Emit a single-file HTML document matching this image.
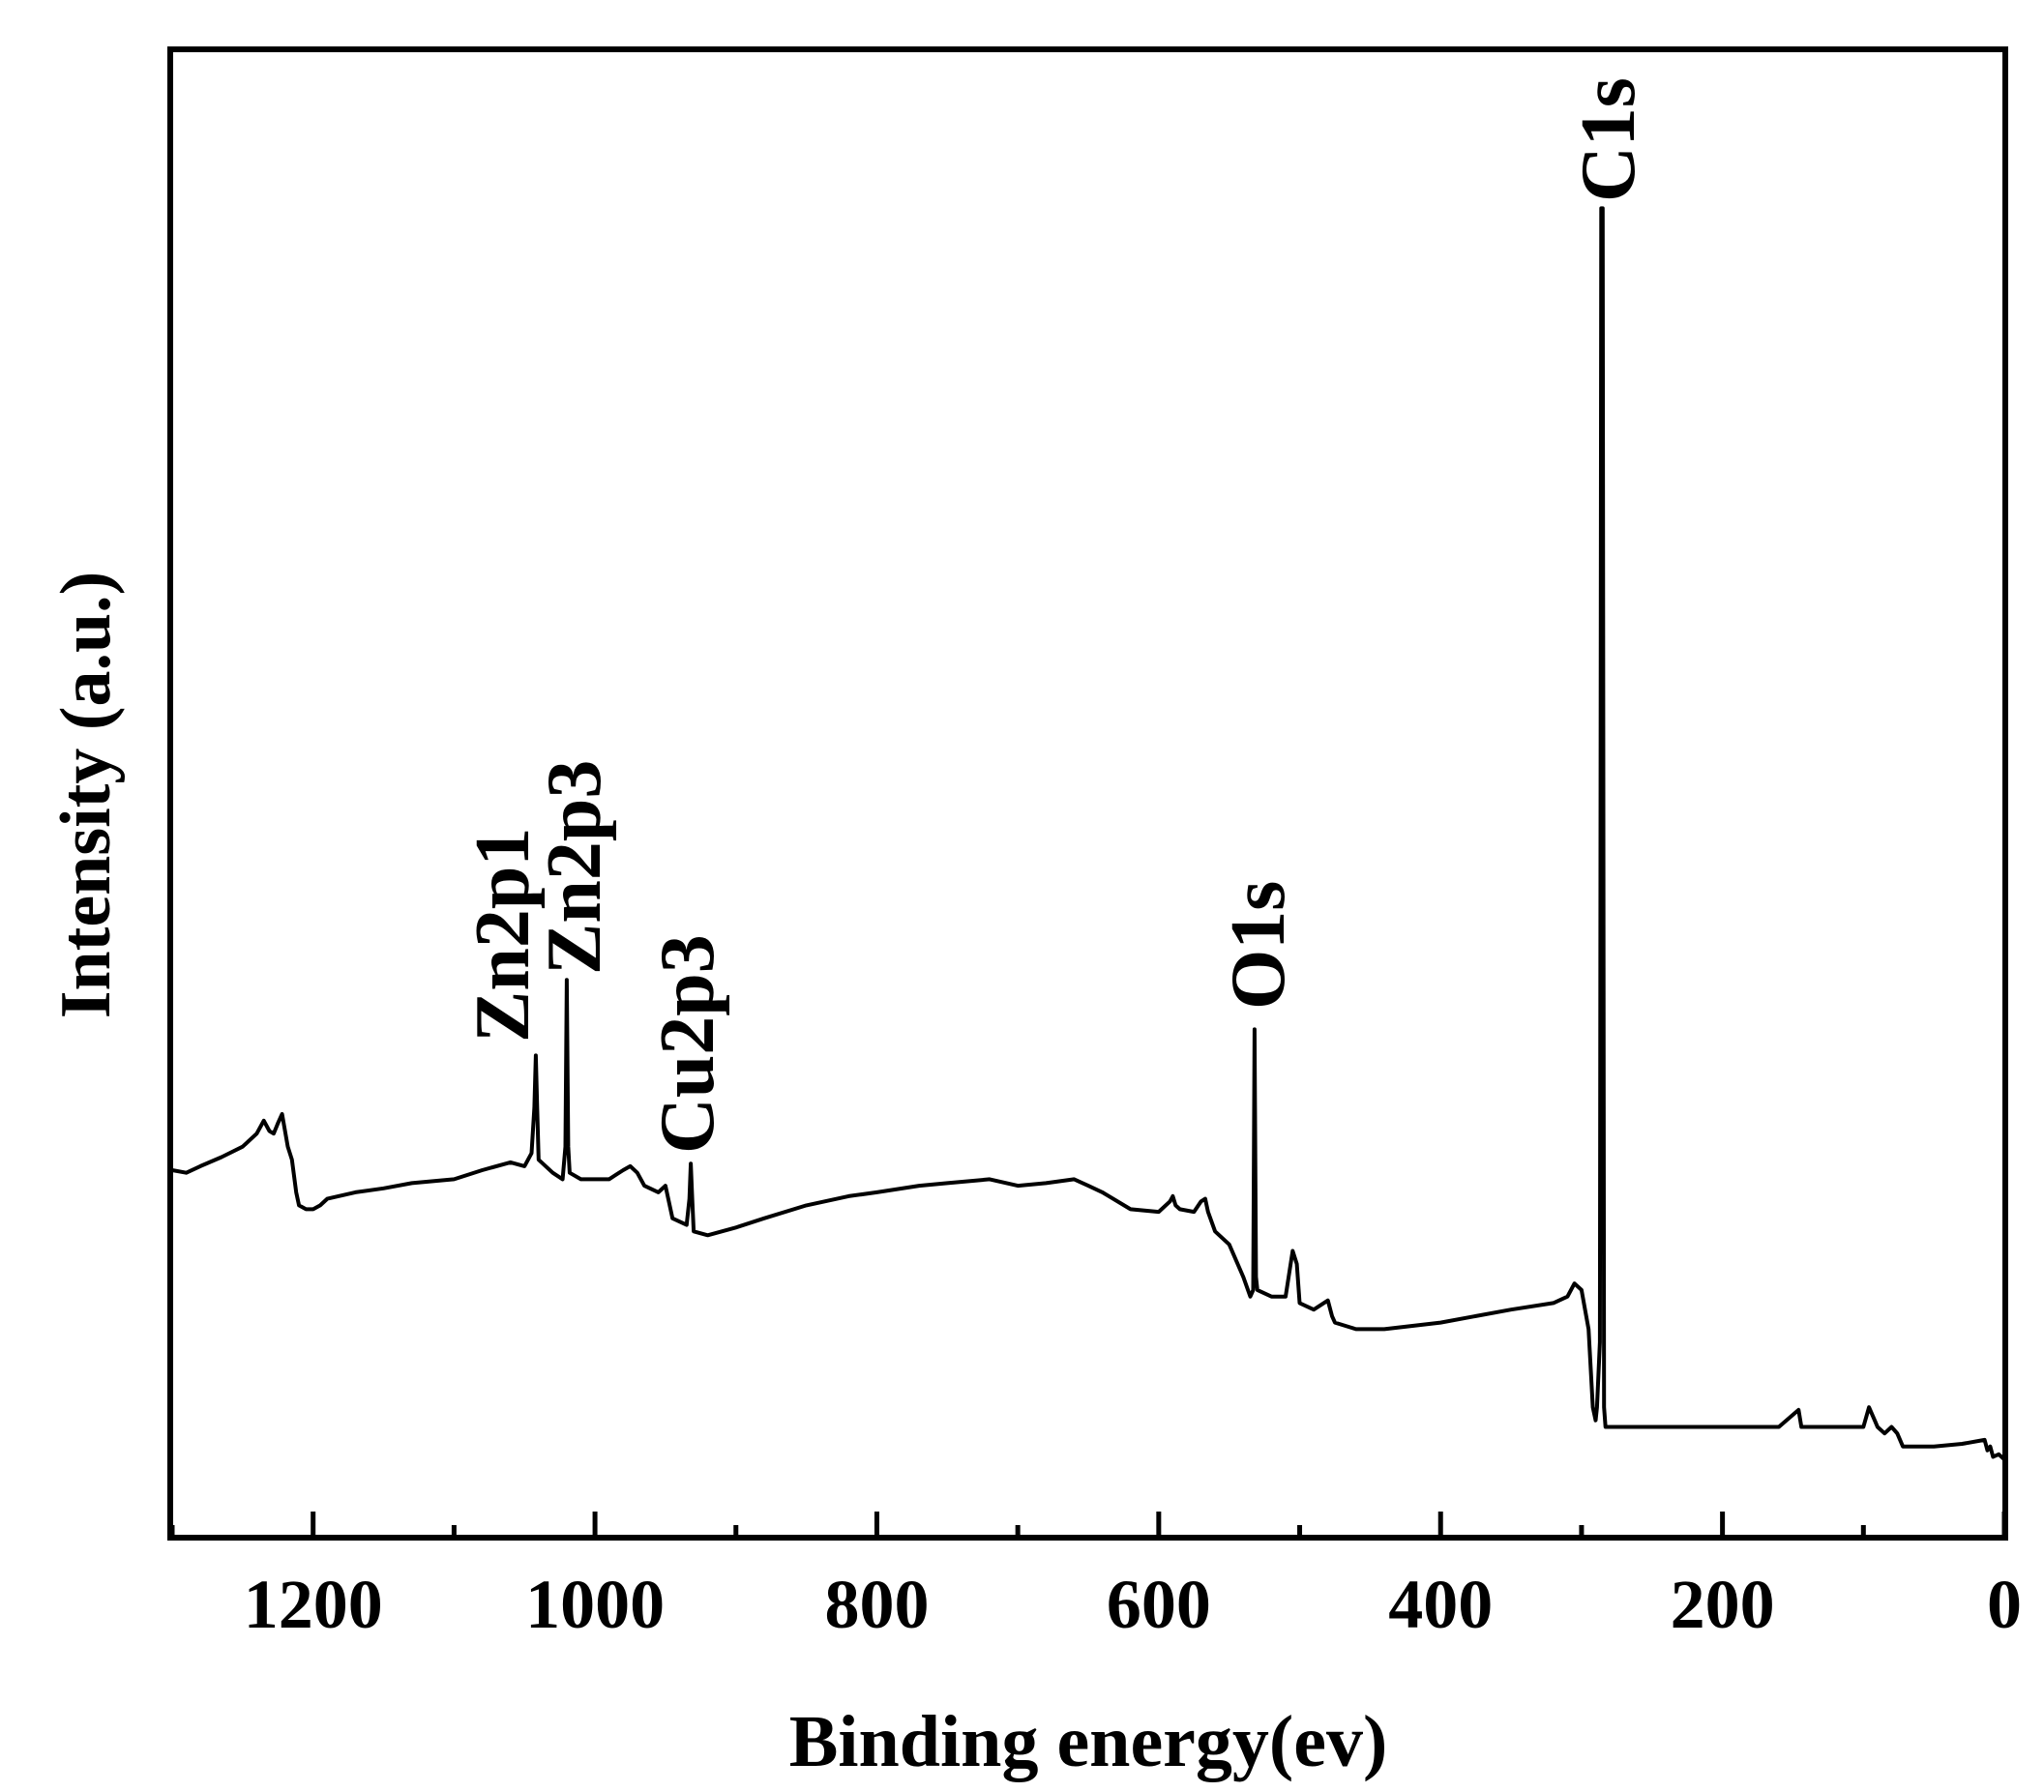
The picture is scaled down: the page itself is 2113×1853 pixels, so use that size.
<!DOCTYPE html>
<html><head><meta charset="utf-8"><style>
html,body{margin:0;padding:0;background:#fff;}
svg text{font-family:"Liberation Serif",serif;font-weight:bold;fill:#000;}
</style></head><body>
<svg id="chart" width="2113" height="1848" viewBox="0 0 2113 1848" xmlns="http://www.w3.org/2000/svg">
</svg>
<script>
const energies = [
1300,1290,1280,1265,1250,1240,1235,1231,1228,1225,
1222,1218,1215,1212,1210,1205,1200,1195,1190,1170,
1150,1130,1100,1080,1060,1050,1045,1043,1042,1041,
1040,1030,1023,1021,1020,1019,1018,1010,1000,990,
980,975,970,965,955,950,945,935,933,932,
931,930,920,900,880,850,820,800,770,750,
720,700,680,660,650,640,620,600,592,590,
588,585,575,570,567,565,560,550,540,535,
533,532,531,530,520,510,505,502,500,490,
480,477,475,460,440,400,350,320,310,305,
300,295,292,290,289,288,287,286,285,284,
283,270,250,200,160,146,144,140,120,100,
96,92,90,85,80,76,72,70,50,30,
14,12,10,8,4,0];
const intensities = [
282,280,285,292,300,310,320,312,310,318,
325,300,290,265,255,252,252,255,260,265,
268,272,275,282,288,285,295,330,370,330,
290,280,275,300,428,300,280,275,275,275,
282,285,280,270,265,270,245,240,260,287,
260,235,232,238,245,255,262,265,270,272,
275,270,272,275,270,265,252,250,258,262,
255,252,250,258,260,250,235,225,200,185,
190,390,200,190,185,185,220,210,180,175,
182,170,165,160,160,165,175,180,185,195,
190,160,100,90,100,125,150,1020,1020,100,
85,85,85,85,85,98,85,85,85,85,
100,90,85,80,85,80,70,70,70,72,
75,67,70,62,64,60];
const xTicks = [1200,1000,800,600,400,200,0];
const xMinor = [1300,1100,900,700,500,300,100];

const L=178,R=2072,T=51,B=1590;
const X0=1300,X1=0,Y0=0,Y1=1142;
function xs(v){return L+(X0-v)/(X0-X1)*(R-L);}
function ys(v){return B-(v-Y0)/(Y1-Y0)*(B-T);}
const NS="http://www.w3.org/2000/svg";
const svg=document.getElementById('chart');
function mk(tag,attrs){const e=document.createElementNS(NS,tag);for(const k in attrs)e.setAttribute(k,attrs[k]);svg.appendChild(e);return e;}

let d="";
const n=Math.min(energies.length,intensities.length);
for(let i=0;i<n;i++){d+=(i?"L":"M")+xs(energies[i]).toFixed(1)+","+ys(intensities[i]).toFixed(1);}
const line=mk('path',{d:d,fill:'none',stroke:'#000','stroke-width':4,'stroke-linejoin':'round'});



const frame=mk('rect',{x:176,y:51,width:1897,height:1539,fill:'none',stroke:'#000','stroke-width':6});



xTicks.forEach(v=>{
  const t=mk('line',{x1:xs(v),x2:xs(v),y1:B,y2:B-27,stroke:'#000','stroke-width':5});
  
  
  const lb=mk('text',{x:xs(v),y:1683,'text-anchor':'middle','font-size':72});
  lb.textContent=v;
  
  
});
xMinor.forEach(v=>{
  const t=mk('line',{x1:xs(v),x2:xs(v),y1:B,y2:B-13,stroke:'#000','stroke-width':5});
  
  
});

const xt=mk('text',{x:1125,y:1826,'text-anchor':'middle','font-size':76});
xt.textContent="Binding energy(ev)";


const yt=mk('text',{x:0,y:0,'text-anchor':'middle','font-size':74,transform:'translate(113,822) rotate(-90)'});
yt.textContent="Intensity (a.u.)";



const peakNames=["Zn2p1","Zn2p3","Cu2p3","O1s","C1s"];
const peakCenterX=[519,593,710,1300,1662];
const peakLabelBase=[1078,1008,1193,1044,209];
for(let i=0;i<peakNames.length;i++){
  const p=mk('text',{x:0,y:0,'text-anchor':'start','font-size':80,transform:'translate('+(peakCenterX[i]+27)+','+peakLabelBase[i]+') rotate(-90)'});
  p.textContent=peakNames[i];
  
  
}
</script>
</body></html>
